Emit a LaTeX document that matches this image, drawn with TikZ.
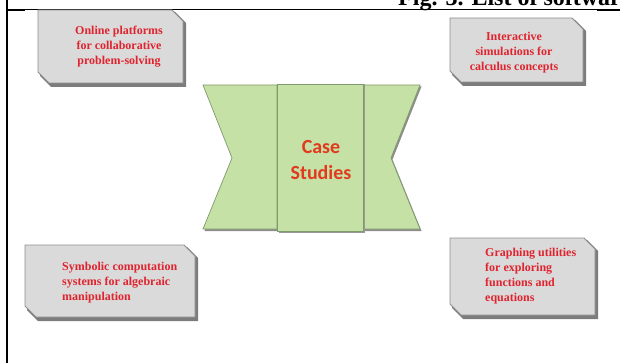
\documentclass[tikz,border=0pt]{standalone}
\usepackage{fontspec}
\setmainfont{Liberation Serif}
\newfontfamily\calibfont{Carlito}
\definecolor{boxface}{HTML}{DADADA}
\definecolor{boxedge}{HTML}{8E8E8E}
\definecolor{boxshadow}{HTML}{7C7C7C}
\definecolor{boxtext}{HTML}{E0232E}
\definecolor{casetext}{HTML}{E13A1E}
\definecolor{greenfill}{HTML}{C5E1A5}
\definecolor{greenedge}{HTML}{7F9A6C}
\newcommand\snipshape[5]{%
  \path[#1] (#2,#3) -- ({#4-11},#3) -- (#4,{#3+11}) -- (#4,#5) -- ({#2+11},#5) -- (#2,{#5-11}) -- cycle;}
\tikzset{
  boxlabel/.style={text=boxtext, font=\fontsize{12}{15}\selectfont\bfseries, inner sep=0pt},
  shadowshape/.style={fill=boxshadow},
  faceshape/.style={fill=boxface, draw=boxedge, line width=0.8pt},
  greenshape/.style={fill=greenfill, draw=greenedge, line width=0.7pt, line join=miter},
  greenshadow/.style={fill=black!45}
}
\begin{document}
\begin{tikzpicture}[x=1pt,y=-1pt]
\useasboundingbox (0,0) rectangle (620,363);
\begin{scope}
\clip (0,0) rectangle (620,363);
\node[anchor=base west, inner sep=0pt, font=\fontsize{24}{28}\selectfont\bfseries] (caption) at (398,6) {Fig. 3. List of software};
\end{scope}
% frame lines
\draw[line width=1.5pt] (7,0) -- (7,363);
\draw[line width=0.8pt] (7,9.5) -- (620,9.5);
\draw[line width=1.8pt] (7,10.5) -- (25,10.5);
\draw[line width=1.8pt] (597,10.5) -- (620,10.5);

% boxes
\snipshape{shadowshape}{40}{12}{186}{87}
\snipshape{faceshape}{38}{10}{183}{83}
\node[boxlabel, align=center] (tl) at (119,47) {Online platforms\\for collaborative\\problem-solving};

\snipshape{shadowshape}{452}{20}{586}{86}
\snipshape{faceshape}{450}{18}{583}{82}
\node[boxlabel, align=center] (tr) at (514,53) {Interactive\\simulations for\\calculus concepts};

\snipshape{shadowshape}{27}{247}{198}{321}
\snipshape{faceshape}{25}{245}{195}{317}
\node[boxlabel, align=left, anchor=west] (bl) at (62,283) {Symbolic computation\\systems for algebraic\\manipulation};

\snipshape{shadowshape}{452}{240}{598}{319}
\snipshape{faceshape}{450}{238}{595}{315}
\node[boxlabel, align=left, anchor=west] (br) at (485,276.5) {Graphing utilities\\for exploring\\functions and\\equations};

% green central shape
\path[greenshadow] (204.5,86.5) -- (279,86.5) -- (279,231) -- (204.5,231) -- (233.5,159.5) -- cycle;
\path[greenshadow] (364.5,86.5) -- (421.5,86.5) -- (392.5,159.5) -- (421.5,231) -- (364.5,231) -- cycle;
\path[greenshape] (203,85) -- (277,85) -- (277,229) -- (203,229) -- (232,158) -- cycle;
\path[greenshape] (363,85) -- (420,85) -- (391,158) -- (420,229) -- (363,229) -- cycle;
\path[fill=black!40] (278.5,84.5) rectangle (364.5,232.5);
\path[greenshape] (277,84) rectangle (363,231);
\node[text=casetext, font=\calibfont\fontsize{20}{26}\selectfont\bfseries, align=center, inner sep=0pt] (case) at (321,160) {Case\\Studies};
\end{tikzpicture}
\end{document}
